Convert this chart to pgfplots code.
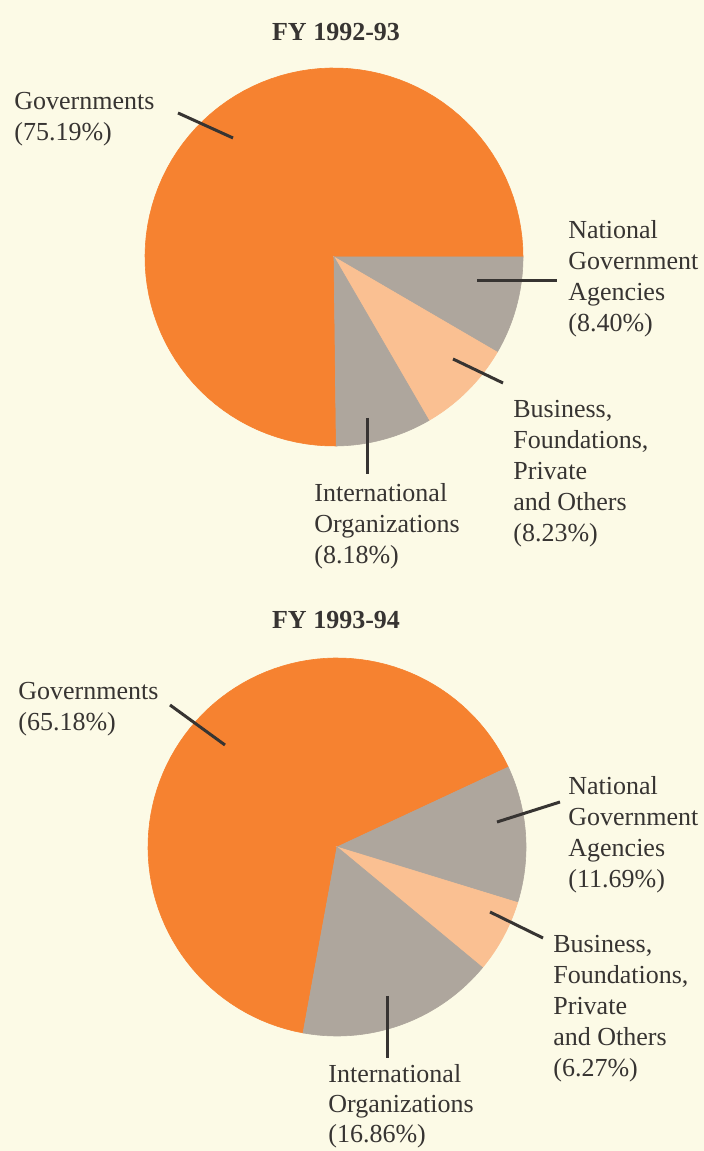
\documentclass[border=0pt]{standalone}
\usepackage{pgfplots}
\pgfplotsset{compat=1.18}
\usepackage{pgfplotstable}
\usepackage{fontspec}
\setmainfont{Liberation Serif}

\definecolor{bg}{RGB}{252,250,230}
\definecolor{govorange}{RGB}{246,130,48}
\definecolor{slicegray}{RGB}{174,166,157}
\definecolor{peach}{RGB}{250,192,146}
\definecolor{ink}{RGB}{55,52,50}

% shares in percent, drawn clockwise from the start angle
\pgfplotstableread{
share  name
8.40   national
8.23   business
8.18   international
75.19  governments
}\fyA
\pgfplotstableread{
share  name
11.69  national
6.27   business
16.86  international
65.18  governments
}\fyB

% cumulative angles
\def\startA{0}
\pgfplotstablegetelem{0}{share}\of\fyA \pgfmathsetmacro\aA{\startA-3.6*\pgfplotsretval}
\pgfplotstablegetelem{1}{share}\of\fyA \pgfmathsetmacro\aB{\aA-3.6*\pgfplotsretval}
\pgfplotstablegetelem{2}{share}\of\fyA \pgfmathsetmacro\aC{\aB-3.6*\pgfplotsretval}
\pgfmathsetmacro\aD{\startA-360}
\def\startB{25}
\pgfplotstablegetelem{0}{share}\of\fyB \pgfmathsetmacro\bA{\startB-3.6*\pgfplotsretval}
\pgfplotstablegetelem{1}{share}\of\fyB \pgfmathsetmacro\bB{\bA-3.6*\pgfplotsretval}
\pgfplotstablegetelem{2}{share}\of\fyB \pgfmathsetmacro\bC{\bB-3.6*\pgfplotsretval}
\pgfmathsetmacro\bD{\startB-360}

\pgfplotsset{
  pie/.style={hide axis, x=94.5pt, y=94.5pt, xmin=-1, xmax=1, ymin=-1, ymax=1,
    clip=false, anchor=center},
  slice/.style={fill=#1, draw=#1, line width=0.3pt, samples=90, variable=\t},
}

\begin{document}
\begin{tikzpicture}
\fill[bg] (0,0) rectangle (352pt,575.5pt);

\begin{axis}[pie, at={(167pt,447pt)}]
  \addplot[slice=govorange, domain=\aD:\aC] ({cos(\t)},{sin(\t)}) -- (axis cs:0,0) -- cycle;
  \addplot[slice=slicegray, domain=\aA:\startA] ({cos(\t)},{sin(\t)}) -- (axis cs:0,0) -- cycle;
  \addplot[slice=peach, domain=\aB:\aA] ({cos(\t)},{sin(\t)}) -- (axis cs:0,0) -- cycle;
  \addplot[slice=slicegray, domain=\aC:\aB] ({cos(\t)},{sin(\t)}) -- (axis cs:0,0) -- cycle;
\end{axis}

\begin{axis}[pie, at={(168.5pt,152pt)}]
  \addplot[slice=govorange, domain=\bD:\bC] ({cos(\t)},{sin(\t)}) -- (axis cs:0,0) -- cycle;
  \addplot[slice=slicegray, domain=\bA:\startB] ({cos(\t)},{sin(\t)}) -- (axis cs:0,0) -- cycle;
  \addplot[slice=peach, domain=\bB:\bA] ({cos(\t)},{sin(\t)}) -- (axis cs:0,0) -- cycle;
  \addplot[slice=slicegray, domain=\bC:\bB] ({cos(\t)},{sin(\t)}) -- (axis cs:0,0) -- cycle;
\end{axis}

% labels, placed in pixel units of the reference (y downwards)
\begin{scope}[x=0.5pt, y=-0.5pt, shift={(0pt,575.5pt)},
  every node/.style={text=ink, inner sep=0pt, font=\fontsize{13}{15.5}\selectfont},
  lbl/.style={anchor=north west, align=left}]
  \node[font=\fontsize{13}{15.5}\selectfont\bfseries] at (336,32) {FY 1992-93};
  \node[lbl] at (14,92) {Governments\\(75.19\%)};
  \node[lbl] at (568,220) {National\\Government\\Agencies\\(8.40\%)};
  \node[lbl] at (513,400) {Business,\\Foundations,\\Private\\and Others\\(8.23\%)};
  \node[lbl] at (314,483) {International\\Organizations\\(8.18\%)};
  \draw[ink, line width=1.5pt] (178,113) -- (233,138);
  \draw[ink, line width=1.5pt] (477,281) -- (557,281);
  \draw[ink, line width=1.5pt] (453,359) -- (503,383);
  \draw[ink, line width=1.5pt] (367,418) -- (367,474);

  \node[font=\fontsize{13}{15.5}\selectfont\bfseries] at (336,620) {FY 1993-94};
  \node[lbl] at (18,682) {Governments\\(65.18\%)};
  \node[lbl] at (568,776) {National\\Government\\Agencies\\(11.69\%)};
  \node[lbl] at (553,935) {Business,\\Foundations,\\Private\\and Others\\(6.27\%)};
  \node[lbl, font=\fontsize{13}{15}\selectfont] at (328,1064) {International\\Organizations\\(16.86\%)};
  \draw[ink, line width=1.5pt] (170,705) -- (225,745);
  \draw[ink, line width=1.5pt] (497,822) -- (560,802);
  \draw[ink, line width=1.5pt] (490,912) -- (543,938);
  \draw[ink, line width=1.5pt] (387,996) -- (387,1058);
\end{scope}

\pgfresetboundingbox
\useasboundingbox (0,0) rectangle (352pt,575.5pt);
\end{tikzpicture}
\end{document}
